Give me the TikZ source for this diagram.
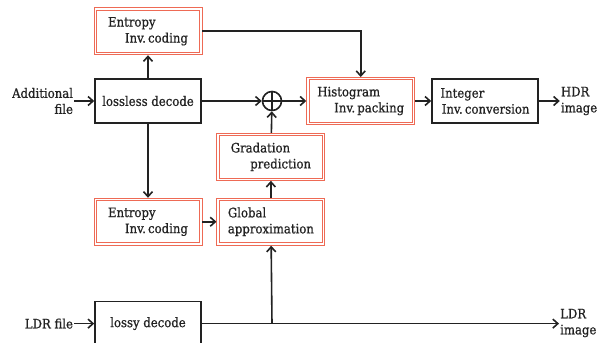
\documentclass[tikz,border=0pt]{standalone}
\usepackage{fontspec}
\setmainfont{DejaVu Serif Condensed}[BoldFont=DejaVu Serif Condensed, BoldFeatures={FakeBold=0.8}]
\usetikzlibrary{arrows.meta, positioning, calc}
\definecolor{boxRed}{HTML}{EE6A55}
\definecolor{lineDark}{HTML}{222222}
\tikzset{
    plainbox/.style={
        draw=lineDark,
        rectangle,
        line width=1.6pt,
        minimum width=106pt,
        minimum height=44pt,
        inner sep=2pt,
        align=left
    },
    redbox/.style={
        draw=boxRed,
        line width=0.9pt,
        rectangle,
        minimum width=108pt,
        minimum height=47pt,
        inner sep=2pt,
        align=left
    },
    innerred/.style={
        draw=boxRed,
        line width=0.9pt
    },
    textlabel/.style={
        inner sep=1pt,
        align=left
    },
    arrow/.style={
        -{Straight Barb[length=5pt, width=9pt, line width=1.6pt]},
        line width=1.6pt,
        draw=lineDark
    }
}

\begin{document}
\begin{tikzpicture}[
    x=1pt, y=-1pt,
    node distance=20pt,
    every node/.style={font=\fontsize{13}{16}\selectfont\bfseries, text=lineDark},
    adder/.style={circle, draw=lineDark, line width=1.6pt, minimum size=19pt, inner sep=0pt},
]
\useasboundingbox (0,0) rectangle (598,343);

% ====== UPPER PATH ======
\node[plainbox, align=center] (lossless) at (148,101) {lossless decode};
\node[redbox, above=23pt of lossless] (entropy1) {Entropy\\\hspace*{1.3em}Inv.\,coding};
\node[textlabel, left=20pt of lossless, align=right] (addfile) {Additional\\file};
\node[adder] (plus) at (272,101) {};
\draw[line width=1.5pt, draw=lineDark] (plus.north) -- (plus.south) (plus.west) -- (plus.east);
\node[redbox, right=24pt of plus] (histogram) {Histogram\\\hspace*{1.3em}Inv.\,packing};
\node[plainbox, right=16pt of histogram] (integer) {Integer\\\hspace*{0.1em}Inv.\,conversion};
\node[textlabel, right=21pt of integer] (hdr) {HDR\\image};

% ====== MIDDLE PATH ======
\node[redbox, below=74pt of lossless] (entropy2) {Entropy\\\hspace*{1.3em}Inv.\,coding};
\node[redbox, right=14pt of entropy2] (global) {Global\\approximation};
\node[redbox, above=17pt of global] (gradation) {Gradation\\\hspace*{1.5em}prediction};

% inner red frames
\foreach \n in {entropy1, histogram, entropy2, global, gradation}
    \draw[innerred] ($(\n.south west)+(2.8pt,2.8pt)$) rectangle ($(\n.north east)-(2.8pt,2.8pt)$);

% ====== LOWER PATH ======
\node[plainbox, align=center, below=177pt of lossless] (lossy) {lossy decode};
\node[textlabel, left=20pt of lossy] (ldrfile) {LDR file};
\node[textlabel, anchor=west] (ldrimg) at (559,323) {LDR\\image};
\coordinate (branch) at (plus |- lossy);

% --- arrows ---
\draw[arrow] (addfile.east |- lossless) -- (lossless);
\draw[arrow] (lossless) -- (entropy1);
\draw[arrow] (lossless) -- (entropy2);
\draw[arrow] (lossless) -- (plus);
\draw[arrow] (entropy1.east) -| (histogram.north);
\draw[arrow] (plus) -- (histogram);
\draw[arrow] (histogram) -- (integer);
\draw[arrow] (integer) -- (hdr.west |- integer);
\draw[arrow] (entropy2) -- (global);
\draw[arrow] (global) -- (gradation);
\draw[arrow] (gradation) -- (plus);
\draw[arrow] (ldrfile) -- (lossy);
\draw[arrow] (lossy.east) -- (ldrimg.west |- lossy);
\draw[arrow] (branch) -- (global);

\end{tikzpicture}
\end{document}
